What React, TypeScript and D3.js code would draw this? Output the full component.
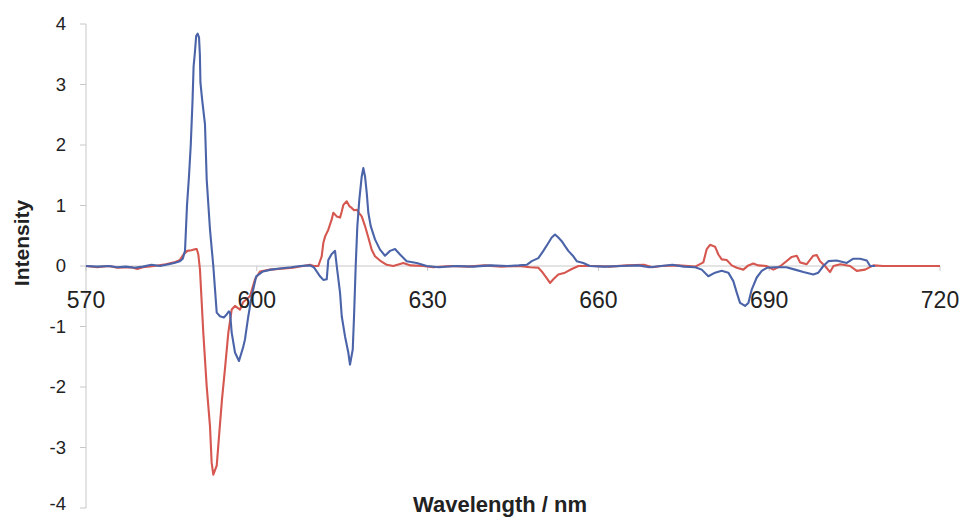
import React from "react";
import * as d3 from "d3";

const xTicks = [570, 600, 630, 660, 690, 720];
const yTicks = [4, 3, 2, 1, 0, -1, -2, -3, -4];

const blueWl = [570, 572, 574, 575.5, 577, 578.5, 580, 581.5, 583, 584.5, 585.5, 586.5, 587.0, 587.39, 587.74, 588.1, 588.4, 588.7, 588.9, 589.1, 589.35, 589.6, 589.85, 590.0, 590.1, 590.4, 590.9, 591.2, 591.78, 592.36, 592.96, 593.54, 594.2, 594.71, 595.1, 595.3, 595.59, 596.17, 596.87, 597.58, 597.93, 598.51, 599.1, 599.9, 601.09, 602.5, 604, 606, 607.6, 609.35, 610.0, 610.52, 611.1, 611.68, 612.28, 612.56, 613.16, 613.74, 614.04, 614.62, 614.92, 615.49, 616.07, 616.37, 616.85, 617.08, 617.37, 617.66, 618.01, 618.43, 618.71, 619.01, 619.31, 619.59, 620.01, 620.76, 621.64, 622.52, 623.4, 624.28, 625.16, 626.33, 628.09, 629.85, 632, 635, 638, 641, 644, 646, 647.41, 648.29, 649.45, 650.33, 651.21, 651.8, 652.38, 652.96, 653.56, 654.14, 654.72, 655.6, 656.19, 657.35, 658.5, 661, 664, 667, 669, 671, 673, 675, 677, 678.15, 679.31, 680.49, 681.66, 682.82, 683.7, 684.3, 684.88, 685.76, 686.34, 686.93, 687.81, 688.69, 689.57, 691, 693, 694.54, 696.0, 697.75, 698.63, 699.51, 700.39, 701.86, 703.62, 704.78, 705.96, 707.14, 707.72, 708.6];
const blueI = [0, -0.01, 0.0, -0.02, -0.01, -0.03, -0.01, 0.02, 0.0, 0.03, 0.05, 0.08, 0.12, 0.25, 1.0, 1.5, 2.0, 2.7, 3.3, 3.5, 3.8, 3.84, 3.78, 3.5, 3.03, 2.75, 2.34, 1.43, 0.6, 0.0, -0.77, -0.83, -0.85, -0.8, -0.75, -0.77, -1.1, -1.43, -1.57, -1.35, -1.21, -0.83, -0.5, -0.17, -0.09, -0.06, -0.04, -0.02, 0.0, 0.01, -0.02, -0.09, -0.17, -0.23, -0.22, 0.1, 0.2, 0.25, 0.0, -0.44, -0.83, -1.16, -1.43, -1.63, -1.38, -0.83, 0.0, 0.66, 1.1, 1.48, 1.62, 1.48, 1.21, 0.88, 0.66, 0.44, 0.27, 0.17, 0.25, 0.28, 0.19, 0.08, 0.05, 0.0, -0.02, 0.0, -0.01, 0.01, 0.0, 0.01, 0.02, 0.08, 0.13, 0.25, 0.38, 0.47, 0.52, 0.47, 0.41, 0.33, 0.25, 0.16, 0.08, 0.05, 0.0, -0.01, 0.0, 0.01, -0.02, 0.0, 0.02, -0.01, -0.02, -0.06, -0.17, -0.11, -0.08, -0.11, -0.25, -0.44, -0.61, -0.66, -0.61, -0.39, -0.19, -0.08, -0.03, -0.02, -0.02, -0.06, -0.1, -0.14, -0.11, 0.0, 0.08, 0.09, 0.05, 0.12, 0.12, 0.09, 0.0, 0.0];

const redWl = [570, 572, 574, 575.5, 578, 579, 580, 582, 584, 585.5, 586.5, 587.2, 587.8, 588.5, 589.3, 589.45, 589.73, 590.02, 590.6, 591.2, 591.78, 592.07, 592.36, 592.96, 593.42, 593.89, 594.45, 595.0, 595.59, 596.17, 597.05, 597.58, 598.8, 599.69, 600.56, 602.32, 606.36, 609.35, 610.0, 610.4, 610.8, 611.4, 611.68, 612.0, 612.56, 613.16, 613.44, 614.04, 614.62, 614.92, 615.2, 615.79, 616.25, 616.67, 617.08, 617.55, 618.01, 618.43, 619.01, 619.59, 620.18, 620.76, 621.64, 622.82, 623.98, 625.74, 627, 629.2, 631, 634, 637, 640, 643, 646, 648, 649.45, 650.05, 650.92, 651.5, 652.08, 652.96, 654.14, 655.32, 656.5, 659, 662, 665, 668, 669.5, 671, 674, 677, 678.43, 679.03, 679.61, 680.49, 681.07, 681.66, 682.54, 683.42, 684.3, 685.46, 686.34, 687.21, 688.09, 689.5, 690.73, 692, 693.96, 694.84, 695.42, 696.59, 697.75, 698.35, 698.93, 699.8, 700.69, 701.3, 702.5, 704.2, 705.38, 706.84, 708.29, 710, 715, 720];
const redI = [0, -0.02, 0.0, -0.03, -0.02, -0.05, -0.02, 0.0, 0.03, 0.06, 0.1, 0.2, 0.25, 0.26, 0.28, 0.28, 0.19, -0.06, -1.1, -1.99, -2.65, -3.25, -3.45, -3.3, -2.75, -2.2, -1.66, -1.1, -0.72, -0.66, -0.72, -0.6, -0.5, -0.22, -0.09, -0.06, -0.03, 0.02, 0.0, 0.0, 0.0, 0.16, 0.38, 0.49, 0.6, 0.77, 0.88, 0.82, 0.8, 0.9, 1.01, 1.07, 0.99, 0.96, 0.92, 0.93, 0.87, 0.82, 0.66, 0.47, 0.27, 0.16, 0.09, 0.02, 0.0, 0.05, 0.01, 0.0, -0.02, 0.0, -0.01, 0.01, -0.01, 0.0, -0.02, -0.03, -0.09, -0.2, -0.28, -0.22, -0.14, -0.11, -0.05, 0.0, 0.0, -0.01, 0.01, 0.02, -0.02, 0.0, 0.01, -0.01, 0.06, 0.28, 0.35, 0.32, 0.19, 0.11, 0.1, 0.01, -0.03, -0.06, 0.01, 0.04, 0.01, 0.0, -0.06, 0.0, 0.15, 0.17, 0.06, 0.03, 0.17, 0.18, 0.08, 0.0, -0.1, 0.0, 0.03, 0.0, -0.08, -0.06, 0.01, 0.0, 0.0, 0.0];

const W = 963;
const H = 517;
const x = d3.scaleLinear().domain([570, 720]).range([86, 940]);
const y = d3.scaleLinear().domain([-4, 4]).range([508, 24]);

const line = d3
  .line<[number, number]>()
  .x((d) => x(d[0]))
  .y((d) => y(d[1]));

const bluePts = blueWl.map((w, i) => [w, blueI[i]] as [number, number]);
const redPts = redWl.map((w, i) => [w, redI[i]] as [number, number]);

const font = "'Liberation Sans', Arial, sans-serif";

export default function App() {
  return (
    <svg
      width={W}
      height={H}
      style={{ position: "absolute", left: 0, top: 0, background: "#fff" }}
      fontFamily={font}
    >
      <rect width={W} height={H} fill="#fff" />
      <line x1={x(570)} x2={x(570)} y1={y(4)} y2={y(-4)} stroke="#c8c8c8" strokeWidth={1} />
      {yTicks.map((t) => (
        <g key={"y" + t}>
          <line x1={x(570) - 6} x2={x(570)} y1={y(t)} y2={y(t)} stroke="#c8c8c8" />
          <text x={66} y={Math.min(y(t), 504)} dy="0.34em" textAnchor="end" fontSize={18.5} fill="#222">
            {t}
          </text>
        </g>
      ))}
      <line x1={x(570)} x2={x(720)} y1={y(0)} y2={y(0)} stroke="#c8c8c8" strokeWidth={1} />
      {xTicks.map((t) => (
        <line key={"x" + t} x1={x(t)} x2={x(t)} y1={y(0)} y2={y(0) + 5} stroke="#c8c8c8" />
      ))}
      <path d={line(redPts) || ""} fill="none" stroke="#d5574f" strokeWidth={2.1} strokeLinejoin="round" />
      <path d={line(bluePts) || ""} fill="none" stroke="#4b64a9" strokeWidth={2.1} strokeLinejoin="round" />
      {xTicks.map((t) => (
        <text key={"xl" + t} x={x(t)} y={308} textAnchor="middle" fontSize={23} fill="#222">
          {t}
        </text>
      ))}
      <text
        transform={`translate(29, ${243}) rotate(-90)`}
        textAnchor="middle"
        fontSize={21}
        fontWeight="bold"
        fill="#222"
      >
        Intensity
      </text>
      <text x={500} y={512} textAnchor="middle" fontSize={22} fontWeight="bold" fill="#222">
        Wavelength / nm
      </text>
    </svg>
  );
}
